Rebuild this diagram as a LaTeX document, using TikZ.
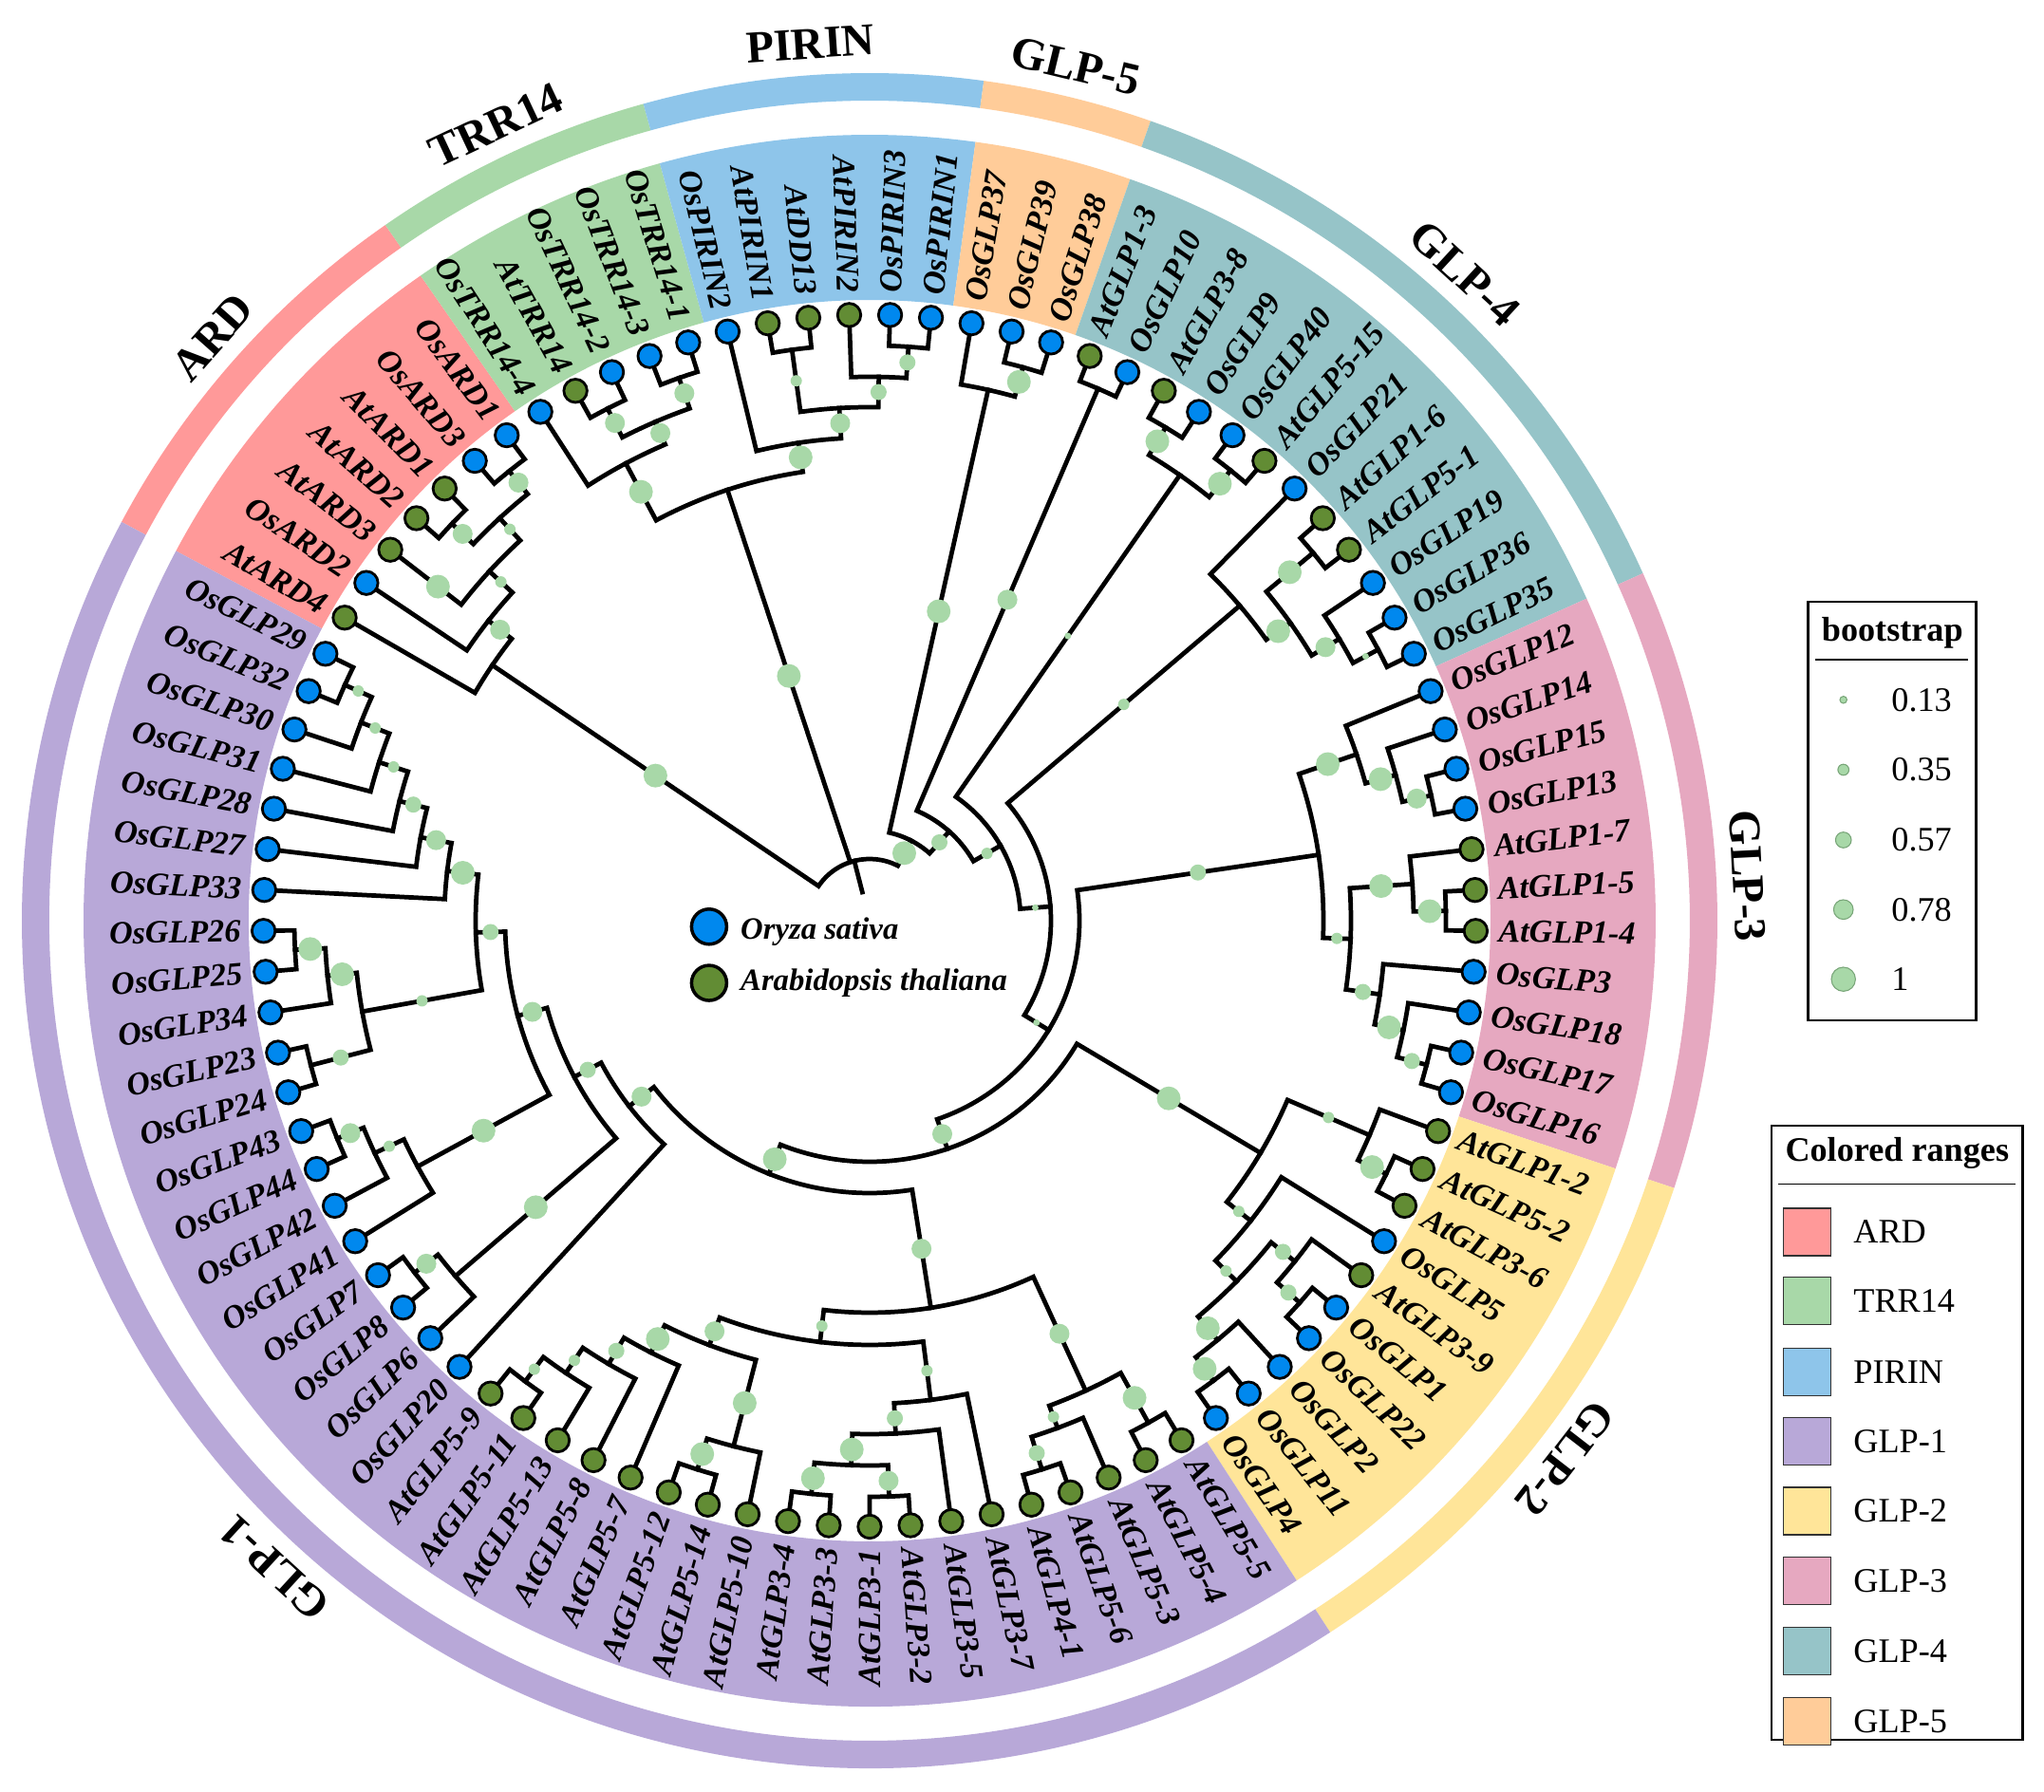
\documentclass[tikz,border=0pt]{standalone}
\usepackage{fontspec}
\setmainfont{Liberation Serif}
\pgfdeclarelayer{boot}
\pgfdeclarelayer{dots}
\pgfsetlayers{main,boot,dots}
\definecolor{osblue}{RGB}{0,136,238}
\definecolor{atgreen}{RGB}{98,140,52}
\definecolor{bootg}{RGB}{168,216,168}
\definecolor{bootedge}{RGB}{120,165,120}
\definecolor{cARD}{RGB}{255,153,153}
\definecolor{cTRR}{RGB}{168,216,168}
\definecolor{cPIR}{RGB}{142,197,234}
\definecolor{cGa}{RGB}{184,168,216}
\definecolor{cGb}{RGB}{255,229,153}
\definecolor{cGc}{RGB}{230,168,192}
\definecolor{cGd}{RGB}{150,196,200}
\definecolor{cGe}{RGB}{255,204,153}
\tikzset{
  branch/.style={line width=1.35pt,line join=miter,line cap=rect},
  osdot/.style={circle,fill=osblue,draw=black,line width=0.8pt,minimum size=0.245cm,inner sep=0pt},
  atdot/.style={circle,fill=atgreen,draw=black,line width=0.8pt,minimum size=0.245cm,inner sep=0pt},
  leaflab/.style={font=\fontsize{9.7}{11}\selectfont\bfseries\itshape,inner sep=0pt},
  grouplab/.style={font=\fontsize{13.6}{15}\selectfont\bfseries,inner sep=0pt},
  legtxt/.style={font=\fontsize{10.3}{12}\selectfont,inner sep=0pt,anchor=west},
  legtitle/.style={font=\fontsize{10.3}{12}\selectfont\bfseries,inner sep=0pt},
  legbox/.style={draw=black,line width=0.7pt},
  spectxt/.style={font=\fontsize{9.3}{11}\selectfont\bfseries\itshape,inner sep=0pt,anchor=base west},
}
\def\LRad{6.385}
\def\LabR{6.62}
\def\Stp{3.8709677}
\newcommand\LfLeft[2]{\pgfmathsetmacro\tmpb{\tmpa+180}\node[leaflab,anchor=east,rotate=\tmpb] (lab#2) at (\tmpa:\LabR) {#1};}
\newcommand\Lf[3]{%
  \pgfmathsetmacro\tmpa{150-(#2-1)*\Stp}%
  \expandafter\xdef\csname na@#1\endcsname{\tmpa}%
  \expandafter\xdef\csname nr@#1\endcsname{\LRad}%
  \expandafter\xdef\csname nb@#1\endcsname{0}%
  \begin{pgfonlayer}{dots}\node[#3] (leaf#2) at (\tmpa:\LRad) {};\end{pgfonlayer}%
  \ifnum#2>16 \ifnum#2<63 \node[leaflab,anchor=west,rotate=\tmpa] (lab#2) at (\tmpa:\LabR) {#1};%
    \else\LfLeft{#1}{#2}\fi
  \else\LfLeft{#1}{#2}\fi}
\newcommand\Boot[4]{%
  \ifdim#4pt>0pt
    \pgfmathsetmacro\bootm{(#2+#3)/2}\pgfmathsetmacro\boots{#4/100}%
    \begin{pgfonlayer}{boot}\fill[bootg] (#1:\bootm) circle[radius=\boots cm];\end{pgfonlayer}%
  \fi}
\newcommand\In[5]{%
  \edef\aA{\csname na@#3\endcsname}\edef\rA{\csname nr@#3\endcsname}\edef\bA{\csname nb@#3\endcsname}%
  \edef\aB{\csname na@#4\endcsname}\edef\rB{\csname nr@#4\endcsname}\edef\bB{\csname nb@#4\endcsname}%
  \pgfmathsetmacro\rr{#2/100}%
  \pgfmathsetmacro\am{(\aA+\aB)/2}%
  \draw[branch] (\aA:\rA) -- (\aA:\rr) arc[start angle=\aA,end angle=\aB,radius=\rr cm] -- (\aB:\rB);
  \Boot{\aA}{\rA}{\rr}{\bA}\Boot{\aB}{\rB}{\rr}{\bB}%
  \expandafter\xdef\csname na@#1\endcsname{\am}%
  \expandafter\xdef\csname nr@#1\endcsname{\rr}%
  \expandafter\xdef\csname nb@#1\endcsname{#5}}
\newcommand\Sect[4]{%
  \pgfmathsetmacro\secA{150-(#2-1.5)*\Stp}%
  \pgfmathsetmacro\secB{150-(#3-0.5)*\Stp}%
  \pgfmathsetmacro\secM{(\secA+\secB)/2}%
  \pgfmathsetmacro\secR{\secM-90}%
  \fill[#1] (\secA:6.54) -- (\secA:8.28) arc[start angle=\secA,end angle=\secB,radius=8.28cm] -- (\secB:6.54) arc[start angle=\secB,end angle=\secA,radius=6.54cm] -- cycle;
  \fill[#1] (\secA:8.64) -- (\secA:8.93) arc[start angle=\secA,end angle=\secB,radius=8.93cm] -- (\secB:8.64) arc[start angle=\secB,end angle=\secA,radius=8.64cm] -- cycle;
  \node[grouplab,rotate=\secR] at (\secM:9.26) {#4};}
\begin{document}
\begin{tikzpicture}
\useasboundingbox (0,0) rectangle (21.53,18.88);
\fill[white] (0,0) rectangle (21.53,18.88);
\begin{scope}[shift={(9.16,9.18)}]
\Sect{cARD}{1}{7}{ARD}
\Sect{cTRR}{8}{12}{TRR14}
\Sect{cPIR}{13}{18}{PIRIN}
\Sect{cGe}{19}{21}{GLP-5}
\Sect{cGd}{22}{33}{GLP-4}
\Sect{cGc}{34}{44}{GLP-3}
\Sect{cGb}{45}{54}{GLP-2}
\Sect{cGa}{55}{93}{GLP-1}
% leaves
\Lf{AtARD4}{1}{atdot}\Lf{OsARD2}{2}{osdot}\Lf{AtARD3}{3}{atdot}\Lf{AtARD2}{4}{atdot}
\Lf{AtARD1}{5}{atdot}\Lf{OsARD3}{6}{osdot}\Lf{OsARD1}{7}{osdot}
\Lf{OsTRR14-4}{8}{osdot}\Lf{AtTRR14}{9}{atdot}\Lf{OsTRR14-2}{10}{osdot}\Lf{OsTRR14-3}{11}{osdot}\Lf{OsTRR14-1}{12}{osdot}
\Lf{OsPIRIN2}{13}{osdot}\Lf{AtPIRIN1}{14}{atdot}\Lf{AtDD13}{15}{atdot}\Lf{AtPIRIN2}{16}{atdot}\Lf{OsPIRIN3}{17}{osdot}\Lf{OsPIRIN1}{18}{osdot}
\Lf{OsGLP37}{19}{osdot}\Lf{OsGLP39}{20}{osdot}\Lf{OsGLP38}{21}{osdot}
\Lf{AtGLP1-3}{22}{atdot}\Lf{OsGLP10}{23}{osdot}\Lf{AtGLP3-8}{24}{atdot}\Lf{OsGLP9}{25}{osdot}
\Lf{OsGLP40}{26}{osdot}\Lf{AtGLP5-15}{27}{atdot}\Lf{OsGLP21}{28}{osdot}\Lf{AtGLP1-6}{29}{atdot}
\Lf{AtGLP5-1}{30}{atdot}\Lf{OsGLP19}{31}{osdot}\Lf{OsGLP36}{32}{osdot}\Lf{OsGLP35}{33}{osdot}
\Lf{OsGLP12}{34}{osdot}\Lf{OsGLP14}{35}{osdot}\Lf{OsGLP15}{36}{osdot}\Lf{OsGLP13}{37}{osdot}
\Lf{AtGLP1-7}{38}{atdot}\Lf{AtGLP1-5}{39}{atdot}\Lf{AtGLP1-4}{40}{atdot}\Lf{OsGLP3}{41}{osdot}
\Lf{OsGLP18}{42}{osdot}\Lf{OsGLP17}{43}{osdot}\Lf{OsGLP16}{44}{osdot}
\Lf{AtGLP1-2}{45}{atdot}\Lf{AtGLP5-2}{46}{atdot}\Lf{AtGLP3-6}{47}{atdot}\Lf{OsGLP5}{48}{osdot}
\Lf{AtGLP3-9}{49}{atdot}\Lf{OsGLP1}{50}{osdot}\Lf{OsGLP22}{51}{osdot}\Lf{OsGLP2}{52}{osdot}
\Lf{OsGLP11}{53}{osdot}\Lf{OsGLP4}{54}{osdot}
\Lf{AtGLP5-5}{55}{atdot}\Lf{AtGLP5-4}{56}{atdot}\Lf{AtGLP5-3}{57}{atdot}\Lf{AtGLP5-6}{58}{atdot}
\Lf{AtGLP4-1}{59}{atdot}\Lf{AtGLP3-7}{60}{atdot}\Lf{AtGLP3-5}{61}{atdot}\Lf{AtGLP3-2}{62}{atdot}
\Lf{AtGLP3-1}{63}{atdot}\Lf{AtGLP3-3}{64}{atdot}\Lf{AtGLP3-4}{65}{atdot}\Lf{AtGLP5-10}{66}{atdot}
\Lf{AtGLP5-14}{67}{atdot}\Lf{AtGLP5-12}{68}{atdot}\Lf{AtGLP5-7}{69}{atdot}\Lf{AtGLP5-8}{70}{atdot}
\Lf{AtGLP5-13}{71}{atdot}\Lf{AtGLP5-11}{72}{atdot}\Lf{AtGLP5-9}{73}{atdot}
\Lf{OsGLP20}{74}{osdot}\Lf{OsGLP6}{75}{osdot}\Lf{OsGLP8}{76}{osdot}\Lf{OsGLP7}{77}{osdot}
\Lf{OsGLP41}{78}{osdot}\Lf{OsGLP42}{79}{osdot}\Lf{OsGLP44}{80}{osdot}\Lf{OsGLP43}{81}{osdot}
\Lf{OsGLP24}{82}{osdot}\Lf{OsGLP23}{83}{osdot}\Lf{OsGLP34}{84}{osdot}\Lf{OsGLP25}{85}{osdot}
\Lf{OsGLP26}{86}{osdot}\Lf{OsGLP33}{87}{osdot}\Lf{OsGLP27}{88}{osdot}\Lf{OsGLP28}{89}{osdot}
\Lf{OsGLP31}{90}{osdot}\Lf{OsGLP30}{91}{osdot}\Lf{OsGLP32}{92}{osdot}\Lf{OsGLP29}{93}{osdot}
% ARD
\In{nA}{607}{OsARD3}{OsARD1}{10.5}
\In{nB}{607}{AtARD2}{AtARD1}{10.5}
\In{nAB}{576}{nB}{nA}{6}
\In{nC}{544}{AtARD3}{nAB}{6}
\In{nD}{511}{OsARD2}{nC}{10.5}
\In{nE}{480}{AtARD4}{nD}{12.5}
\begin{pgfonlayer}{boot}\fill[bootg] (\csname na@AtARD3\endcsname:5.75) circle[radius=0.125cm];\end{pgfonlayer}
% TRR14
\In{t1}{606}{AtTRR14}{OsTRR14-2}{10.5}
\In{t2}{606}{OsTRR14-3}{OsTRR14-1}{10.5}
\In{T2}{572}{t1}{t2}{10.5}
\In{T}{546}{OsTRR14-4}{T2}{12.5}
% PIRIN
\In{p1}{607}{AtPIRIN1}{AtDD13}{6}
\In{p2}{606}{OsPIRIN3}{OsPIRIN1}{8.5}
\In{P3}{573}{AtPIRIN2}{p2}{8.5}
\In{P2}{541}{p1}{P3}{10.5}
\In{P1}{509}{OsPIRIN2}{P2}{12.5}
\In{TP}{478}{T}{P1}{12.5}
% GLP-5
\In{g5a}{605}{OsGLP39}{OsGLP38}{12.5}
\In{G5}{573}{OsGLP37}{g5a}{12.5}
% GLP-4
\In{X67}{610}{AtGLP1-3}{OsGLP10}{10.5}
\In{x55a}{606}{AtGLP3-8}{OsGLP9}{12.5}
\In{x55b}{608}{OsGLP40}{AtGLP5-15}{12.5}
\In{X55}{572}{x55a}{x55b}{3.5}
\In{y1}{607}{AtGLP1-6}{AtGLP5-1}{12.5}
\In{z1}{607}{OsGLP36}{OsGLP35}{3.5}
\In{Z}{577}{OsGLP19}{z1}{10.5}
\In{Y}{543}{y1}{Z}{12.5}
\In{X40}{512}{OsGLP21}{Y}{6}
% GLP-3
\In{a3}{606}{OsGLP15}{OsGLP13}{10.5}
\In{A2}{575}{OsGLP14}{a3}{12.5}
\In{A}{542}{OsGLP12}{A2}{12.5}
\In{b1p}{607}{AtGLP1-5}{AtGLP1-4}{12.5}
\In{B1}{573}{AtGLP1-7}{b1p}{12.5}
\In{b4}{606}{OsGLP17}{OsGLP16}{8.5}
\In{B3}{574}{OsGLP18}{b4}{12.5}
\In{B2}{543}{OsGLP3}{B3}{8.5}
\In{B}{507}{B1}{B2}{6}
\In{G3n}{478}{A}{B}{8.5}
% GLP-2
\In{g1p}{606}{AtGLP5-2}{AtGLP3-6}{12.5}
\In{G1}{573}{AtGLP1-2}{g1p}{6}
\In{g4p}{606}{OsGLP1}{OsGLP22}{8.5}
\In{G4}{574}{AtGLP3-9}{g4p}{8.5}
\In{g5p}{605}{OsGLP11}{OsGLP4}{12.5}
\In{G5b}{574}{OsGLP2}{g5p}{12.5}
\In{G3b}{542}{G4}{G5b}{6}
\In{G2}{511}{OsGLP5}{G3b}{6}
\In{G2n}{479}{G1}{G2}{12.5}
% GLP-1 (At)
\In{rp1}{605}{AtGLP5-5}{AtGLP5-4}{12.5}
\In{rp2}{606}{AtGLP5-6}{AtGLP4-1}{8.5}
\In{Q}{570}{AtGLP5-3}{rp2}{6}
\In{Rr}{545}{rp1}{Q}{10.5}
\In{d1}{607}{AtGLP3-2}{AtGLP3-1}{10.5}
\In{d2}{607}{AtGLP3-3}{AtGLP3-4}{12.5}
\In{RLd}{574}{d1}{d2}{12.5}
\In{RLc}{541}{AtGLP3-5}{RLd}{8.5}
\In{RLb}{509}{AtGLP3-7}{RLc}{6}
\In{s1p}{606}{AtGLP5-14}{AtGLP5-12}{12.5}
\In{S1}{572}{AtGLP5-10}{s1p}{12.5}
\In{s4p}{606}{AtGLP5-11}{AtGLP5-9}{6}
\In{S4}{574}{AtGLP5-13}{s4p}{6}
\In{S3}{542}{AtGLP5-8}{S4}{8.5}
\In{S2}{510}{AtGLP5-7}{S3}{12.5}
\In{RLa}{478}{S1}{S2}{10.5}
\In{RL}{447}{RLb}{RLa}{6}
\In{R}{413}{Rr}{RL}{10.5}
% GLP-1 (Os)
\In{l14p}{606}{OsGLP32}{OsGLP29}{6}
\In{L14}{575}{OsGLP30}{l14p}{6}
\In{L13}{543}{OsGLP31}{L14}{6}
\In{L12}{511}{OsGLP28}{L13}{8.5}
\In{L11}{481}{OsGLP27}{L12}{10.5}
\In{L10}{448}{OsGLP33}{L11}{12.5}
\In{l9p}{606}{OsGLP25}{OsGLP26}{12.5}
\In{L9}{574}{OsGLP34}{l9p}{12.5}
\In{l8p}{608}{OsGLP24}{OsGLP23}{8.5}
\In{L8}{543}{l8p}{L9}{6}
\In{L7}{415}{L8}{L10}{8.5}
\In{l6p}{606}{OsGLP44}{OsGLP43}{10.5}
\In{L6}{576}{OsGLP42}{l6p}{6}
\In{L5}{542}{OsGLP41}{L6}{12.5}
\In{L4}{384}{L5}{L7}{10.5}
\In{l3p}{606}{OsGLP8}{OsGLP7}{10.5}
\In{L3}{575}{OsGLP6}{l3p}{12.5}
\In{L2}{352}{L3}{L4}{8.5}
\In{L}{320}{OsGLP20}{L2}{10.5}
% backbone
\In{N287}{287}{R}{L}{12.5}
\In{N254}{254}{G2n}{N287}{10.5}
\In{N221}{221}{G3n}{N254}{3.5}
\In{N191}{191}{X40}{N221}{3.5}
\In{N159}{159}{X55}{N191}{6}
\In{N126}{126}{X67}{N159}{8.5}
\In{N95}{95}{G5}{N126}{12.5}
% root region (trifurcation)
\edef\aE{\csname na@nE\endcsname}\edef\rE{\csname nr@nE\endcsname}
\edef\aT{\csname na@TP\endcsname}\edef\rT{\csname nr@TP\endcsname}
\edef\aN{\csname na@N95\endcsname}\edef\rN{\csname nr@N95\endcsname}
\pgfmathsetmacro\aR{(\aE+\aN)/2}
\draw[branch] (\aE:\rE) -- (\aE:0.65) arc[start angle=\aE,end angle=\aN,radius=0.65cm] -- (\aN:\rN);
\draw[branch] (\aT:0.65) -- (\aT:\rT);
\draw[branch] (\aR:0.31) -- (\aR:0.65);
\Boot{\aE}{\rE}{0.65}{12.5}\Boot{\aT}{\rT}{0.65}{12.5}\Boot{\aN}{\rN}{0.65}{12.5}
\end{scope}
% species legend
\node[osdot,minimum size=0.37cm,line width=1pt] (legOs) at (7.469,9.117) {};
\node[spectxt] (legOsT) at (7.795,8.98) {Oryza sativa};
\node[atdot,minimum size=0.37cm,line width=1pt] (legAt) at (7.469,8.524) {};
\node[spectxt] (legAtT) at (7.795,8.441) {Arabidopsis thaliana};
% bootstrap legend
\draw[legbox] (19.043,12.54) rectangle (20.817,8.13);
\node[legtitle] (bt) at (19.933,12.213) {bootstrap};
\draw[line width=0.5pt] (19.123,11.93) -- (20.733,11.93);
\foreach \yy/\rs/\tx in {11.507/0.037/0.13,10.77/0.058/0.35,10.03/0.083/0.57,9.297/0.103/0.78,8.563/0.127/1}{
  \fill[bootg,draw=bootedge,line width=0.3pt] (19.417,\yy) circle[radius=\rs cm];
  \node[legtxt] at (19.917,\yy) {\tx};
}
% colored ranges legend
\draw[legbox] (18.66,7.018) rectangle (21.307,0.55);
\node[legtitle] (crt) at (19.983,6.728) {Colored ranges};
\draw[line width=0.5pt] (18.733,6.404) -- (21.233,6.404);
\foreach \yy/\cc/\tx in {5.901/cARD/ARD,5.172/cTRR/TRR14,4.425/cPIR/PIRIN,3.694/cGa/GLP-1,2.958/cGb/GLP-2,2.222/cGc/GLP-3,1.486/cGd/GLP-4,0.744/cGe/GLP-5}{
  \filldraw[fill=\cc,draw=black!80,line width=0.4pt] (18.783,\yy-0.25) rectangle (19.283,\yy+0.25);
  \node[legtxt] at (19.517,\yy) {\tx};
}
\end{tikzpicture}
\end{document}
